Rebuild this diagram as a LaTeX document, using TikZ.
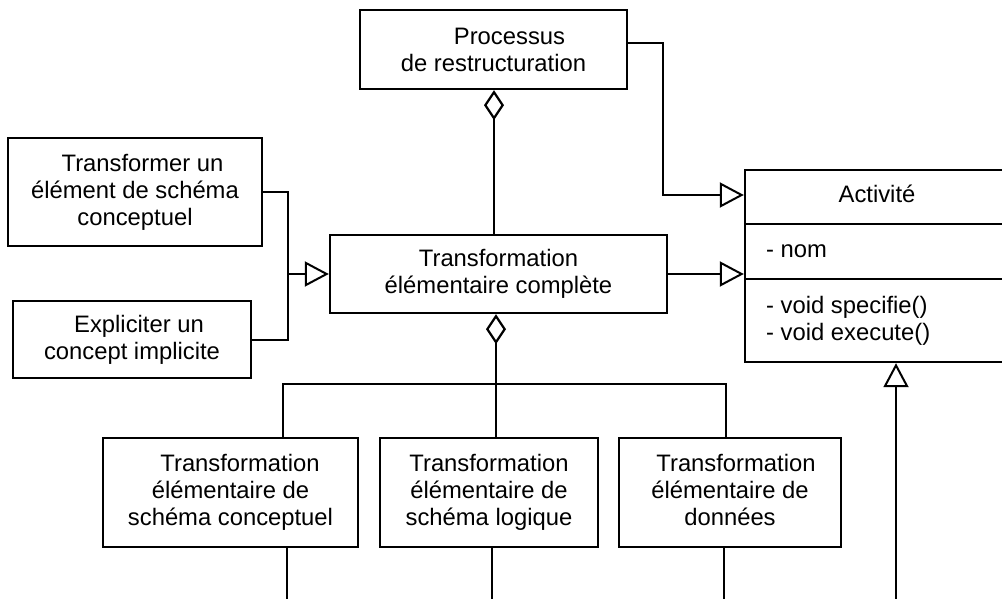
\documentclass[tikz,border=0pt]{standalone}
\usepackage{fontspec}
\setmainfont{Liberation Sans}
\usetikzlibrary{arrows.meta}
\newcommand\diagfont{\fontsize{23.8}{27}\selectfont}
\begin{document}
\begin{tikzpicture}[x=1pt,y=-1pt,
  box/.style={draw, line width=2.4pt, rectangle, inner sep=0pt, align=center, font=\diagfont},
  txt/.style={inner sep=0pt, font=\diagfont},
  conn/.style={line width=2pt},
  gen/.style={conn, -{Triangle[open, length=24pt, width=25pt]}},
  agg/.style={conn, {Diamond[open, length=30pt, width=20pt, line width=2.2pt]}-},
]
\fill[white] (0,0) rectangle (1002,599);
\useasboundingbox (0,0) rectangle (1002,599);
\clip (0,0) rectangle (1002,599);

% classes
\node[box, minimum width=267pt, minimum height=79pt] (proc) at (493.5,49.5)
  {\hspace*{32pt}Processus\\de restructuration};
\node[box, minimum width=254pt, minimum height=108pt] (tc) at (135,192)
  {\hspace*{15pt}Transformer un\\élément de schéma\\conceptuel};
\node[box, minimum width=238pt, minimum height=77pt] (ex) at (132,339.5)
  {\hspace*{14pt}Expliciter un\\concept implicite};
\node[box, minimum width=337pt, minimum height=78pt] (tec) at (498.5,274)
  {Transformation\\élémentaire complète};
\node[box, minimum width=264pt, minimum height=192pt] (act) at (877,266) {};
\node[box, minimum width=255pt, minimum height=109pt] (ta) at (230.5,492.5)
  {\hspace*{19pt}Transformation\\élémentaire de\\schéma conceptuel};
\node[box, minimum width=218pt, minimum height=109pt] (tb) at (489,492.5)
  {Transformation\\élémentaire de\\schéma logique};
\node[box, minimum width=222pt, minimum height=109pt] (tcd) at (730,492.5)
  {\hspace*{12pt}Transformation\\élémentaire de\\données\vphantom{p}};

% Activité compartments
\coordinate (d1) at (1010,224);
\coordinate (d2) at (1010,279);
\draw[line width=2pt] (act.west |- d1) -- (d1);
\draw[line width=2pt] (act.west |- d2) -- (d2);
\node[txt, anchor=base] (actname) at (877,203) {Activité};
\node[txt, anchor=base west] (attr) at (766,257) {- nom};
\node[txt, anchor=base west] (op1) at (766,313) {- void specifie()};
\node[txt, anchor=base west] (op2) at (766,340) {- void execute()};

% generalisations
\coordinate (abend) at (663,195);
\draw[gen] ([yshift=6pt]proc.east) -| (abend) -- (act.west |- abend);
\draw[gen] (tec.east) -- (act.west |- tec.east);
\coordinate (j) at (288,274);
\draw[conn] (tc.east) -| (j) |- (ex.east);
\draw[gen] (j) -- (tec.west);
\coordinate (ed) at (896,610);
\draw[gen] (ed) -- (act.south -| ed);

% aggregations
\coordinate (pa) at (494,0);
\draw[agg] (proc.south -| pa) -- (tec.north -| pa);
\coordinate (bus) at (496,384);
\coordinate (busL) at (283,384);
\coordinate (busR) at (726,384);
\draw[agg] (bus |- tec.south) -- (tb.north -| bus);
\draw[conn] (ta.north -| busL) -- (busL) -- (busR) -- (tcd.north -| busR);

% links leaving downwards
\coordinate (ea) at (287,610);
\coordinate (eb) at (492,610);
\coordinate (ec) at (724,610);
\draw[conn] (ta.south -| ea) -- (ea);
\draw[conn] (tb.south -| eb) -- (eb);
\draw[conn] (tcd.south -| ec) -- (ec);
\end{tikzpicture}
\end{document}
